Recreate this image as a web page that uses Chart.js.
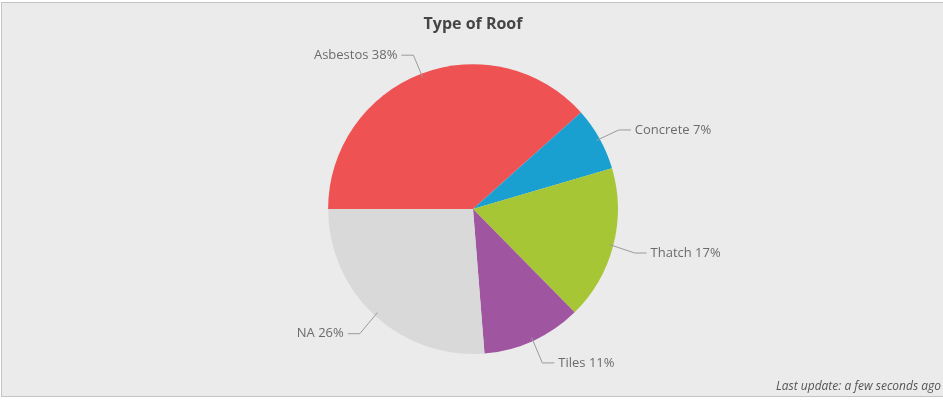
<!DOCTYPE html>
<html>
<head>
<meta charset="utf-8">
<script src="https://cdn.jsdelivr.net/npm/chart.js@4"></script>
<style>
  html, body { margin: 0; padding: 0; background: #fff; overflow: hidden; }
  #frame {
    position: absolute; left: 1px; top: 2px; width: 960px; height: 393px;
    background: #ebebeb; border: 1px solid #c4c4c4;
  }
  #wrap { position: absolute; left: 0; top: 0; width: 943px; height: 400px; }
  #stamp {
    position: absolute; right: 2px; top: 377px;
    font: italic 12px "Open Sans", sans-serif; color: #555;
  }
</style>
</head>
<body>
<div id="frame"></div>
<div id="wrap"><canvas id="roofChart"></canvas></div>
<div id="stamp">Last update: a few seconds ago</div>
<script>
// Tipos de techo y porcentajes
const categories = ['Asbestos', 'Concrete', 'Thatch', 'Tiles', 'NA'];
const percents = [38, 7, 17, 11, 26];
const colors = ['#ee5253', '#19a0d1', '#a6c635', '#a055a0', '#d9d9d9'];

// Etiquetas con línea guía fuera de cada porción
const leaderLabels = {
    id: 'leaderLabels',
    afterDatasetsDraw(chart) {
        const ctx = chart.ctx;
        const meta = chart.getDatasetMeta(0);
        ctx.save();
        ctx.font = '13px "Open Sans", sans-serif';
        ctx.fillStyle = '#6b6b6b';
        ctx.strokeStyle = '#9a9a9a';
        ctx.lineWidth = 1;
        ctx.textBaseline = 'middle';
        meta.data.forEach((arc, i) => {
            const p = arc.getProps(['x', 'y', 'startAngle', 'endAngle', 'outerRadius'], true);
            const mid = (p.startAngle + p.endAngle) / 2;
            const c = Math.cos(mid), s = Math.sin(mid);
            const r0 = p.outerRadius - 4, r1 = p.outerRadius + 22;
            const x0 = p.x + c * r0, y0 = p.y + s * r0;
            const x1 = p.x + c * r1, y1 = p.y + s * r1 + 2;
            const right = c >= 0;
            const x2 = x1 + (right ? 12 : -12);
            ctx.beginPath();
            ctx.moveTo(x0, y0);
            ctx.lineTo(x1, y1);
            ctx.lineTo(x2, y1);
            ctx.stroke();
            ctx.textAlign = right ? 'left' : 'right';
            ctx.fillText(categories[i] + ' ' + percents[i] + '%', x2 + (right ? 4 : -4), y1);
        });
        ctx.restore();
    }
};

const roofCtx = document.getElementById('roofChart');
new Chart(roofCtx, {
    type: 'pie',
    data: {
        labels: categories,
        datasets: [{
            data: percents,
            backgroundColor: colors,
            borderWidth: 0
        }]
    },
    options: {
        responsive: true,
        maintainAspectRatio: false,
        animation: false,
        rotation: -90,
        layout: { padding: { top: 0, bottom: 46, left: 3 } },
        plugins: {
            legend: { display: false },
            tooltip: { enabled: false },
            title: {
                display: true,
                text: 'Type of Roof',
                color: '#454545',
                font: { family: '"Open Sans", sans-serif', size: 16, weight: 'bold' },
                padding: { top: 15, bottom: 30 }
            }
        }
    },
    plugins: [leaderLabels]
});
</script>
</body>
</html>
